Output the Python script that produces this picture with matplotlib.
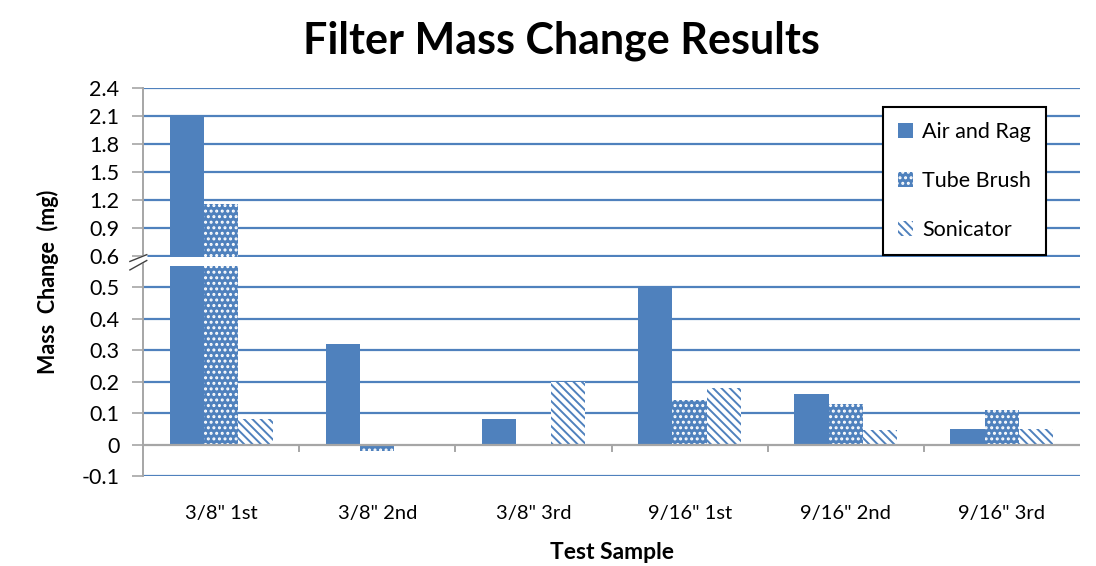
import numpy as np
import matplotlib
matplotlib.use('Agg')
import matplotlib.pyplot as plt
import matplotlib.transforms as mtransforms

plt.rcParams['font.family'] = ['Lato', 'DejaVu Sans']
plt.rcParams['hatch.linewidth'] = 1.4

#------------------------------------------------------------------------------
# data
#------------------------------------------------------------------------------

samples = ['3/8" 1st', '3/8" 2nd', '3/8" 3rd', '9/16" 1st', '9/16" 2nd', '9/16" 3rd']
series = ['Air and Rag', 'Tube Brush', 'Sonicator']
air_rag = [2.10, 0.32, 0.08, 0.50, 0.16, 0.05]
tube_brush = [1.16, -0.02, 0.0, 0.14, 0.13, 0.11]
sonicator = [0.08, 0.0, 0.20, 0.18, 0.045, 0.05]

lower_ticks = [-0.1, 0, 0.1, 0.2, 0.3, 0.4, 0.5, 0.6]
upper_ticks = [0.9, 1.2, 1.5, 1.8, 2.1, 2.4]

#------------------------------------------------------------------------------
# broken axis: 0.1 per unit below 0.6, 0.3 per 0.889 unit above
#------------------------------------------------------------------------------

brk = 0.6
k = 28.0/31.5

def fwd(v):
    v = np.asarray(v, dtype=float)
    return np.where(v <= brk, v/0.1, brk/0.1 + (v-brk)/0.3*k)

def inv(p):
    p = np.asarray(p, dtype=float)
    return np.where(p <= brk/0.1, p*0.1, brk + (p-brk/0.1)*0.3/k)

blue = '#4f81bd'
grey = '#a6a6a6'

fig = plt.figure(figsize=(10.96, 5.66), dpi=100)
ax = fig.add_axes([143/1096, 90/566, 937/1096, 388/566])
ax.set_yscale('function', functions=(fwd, inv))
ax.set_ylim(-0.1, 2.4)
ax.set_xlim(-0.5, len(samples)-0.5)

x = np.arange(len(samples))
w = 0.22

ax.bar(x-w, air_rag, w, color=blue, linewidth=0, zorder=2, label=series[0])
ax.bar(x, tube_brush, w, color=blue, edgecolor='white', hatch='...', linewidth=0,
       zorder=2, label=series[1])
ax.bar(x+w, sonicator, w, color='white', edgecolor=blue, hatch='\\\\\\\\', linewidth=0,
       zorder=2, label=series[2])

# white gap across the bars at the break
ax.axhspan(0.566, 0.597, color='white', zorder=2.5, linewidth=0)

yt = lower_ticks + upper_ticks
for v in yt:
    if v == 0:
        continue
    ax.axhline(v, color=blue, lw=1.6, zorder=1)
ax.axhline(0, color=grey, lw=1.6, zorder=3)

ax.set_yticks(yt)
ax.set_yticklabels(['%g' % v if v != 0 else '0' for v in yt], fontsize=15.5)
ax.tick_params(axis='y', direction='out', length=8, color=grey, width=1.2, pad=9)
ax.set_xticks(x)
ax.set_xticklabels(samples, fontsize=14.5)
ax.tick_params(axis='x', length=0, pad=21)

# category separator ticks hanging below the zero line
for b in np.arange(0.5, len(samples)-0.5, 1.0):
    ax.plot([b, b], [0, -0.022], color=grey, lw=1.4, zorder=3, clip_on=False)

for s in ['top', 'right', 'bottom']:
    ax.spines[s].set_visible(False)
ax.spines['left'].set_color(grey)
ax.spines['left'].set_linewidth(1.4)
ax.spines['left'].set_zorder(4)

# break mark on the y axis
tr = mtransforms.blended_transform_factory(ax.transAxes, ax.transData)
ax.fill([-0.014, 0.004, 0.004, -0.014], [0.555, 0.585, 0.612, 0.582],
        color='white', transform=tr, clip_on=False, zorder=5)
ax.plot([-0.014, 0.004], [0.555, 0.585], color='#404040', lw=1.0, transform=tr,
        clip_on=False, zorder=6)
ax.plot([-0.014, 0.004], [0.582, 0.612], color='#404040', lw=1.0, transform=tr,
        clip_on=False, zorder=6)

ax.set_xlabel('Test Sample', fontsize=16.5, fontweight='bold', labelpad=14)
ax.set_ylabel('Mass  Change  (mg)', fontsize=15.5, fontweight='bold', labelpad=16)
fig.text(0.512, 0.928, 'Filter Mass Change Results', ha='center', va='center',
         fontsize=31, fontweight='bold')

leg = ax.legend(loc='upper left', bbox_to_anchor=(0.79, 0.951), fontsize=15.5,
                frameon=True, fancybox=False, edgecolor='black', framealpha=1,
                handlelength=0.7, handleheight=0.7, handletextpad=0.4,
                labelspacing=1.35, borderpad=0.7, borderaxespad=0)
leg.get_frame().set_linewidth(1.5)
leg.set_zorder(10)

fig.savefig('out.png', dpi=100)
